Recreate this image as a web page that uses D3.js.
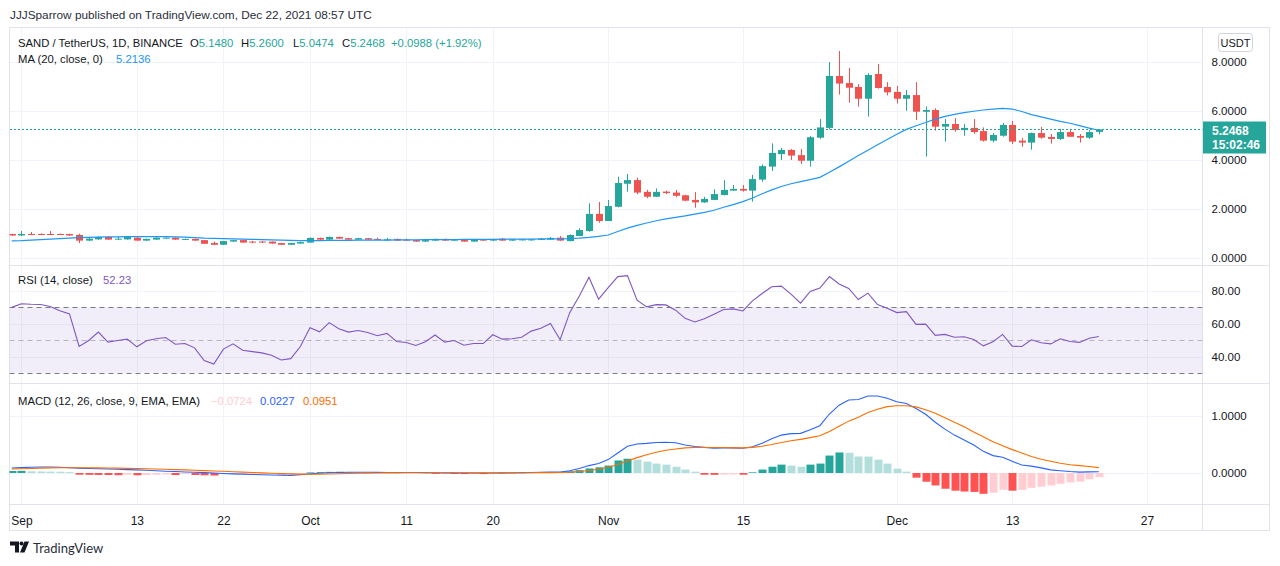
<!DOCTYPE html>
<html><head><meta charset="utf-8">
<script src="https://cdn.jsdelivr.net/npm/d3@7"></script>
<style>
html,body{margin:0;padding:0;background:#fff;}
svg{display:block;font-family:"Liberation Sans",Arial,sans-serif;}
</style>
</head><body>
<svg id="c" width="1280" height="566"></svg>
<script>
// ---------------- DATA (daily candles, 2021-08-31 .. 2021-12-22) ----------------
const firstDay = "2021-08-31";
const lastDay = "2021-12-22";

const open = [0.98,0.92,0.98,0.98,0.98,0.98,0.98,0.94,0.71,0.76,0.86,0.75,0.76,0.83,0.71,0.75,0.80,0.83,0.75,0.78,
0.73,0.61,0.54,0.67,0.73,0.67,0.67,0.67,0.61,0.54,0.59,0.63,0.82,0.75,0.86,0.81,0.75,0.81,0.78,0.72,
0.78,0.75,0.73,0.67,0.71,0.78,0.71,0.75,0.67,0.75,0.71,0.78,0.71,0.72,0.72,0.75,0.75,0.83,0.69,0.90,
1.10,1.80,1.51,2.09,3.03,3.18,2.70,2.50,2.71,2.67,2.56,2.37,2.27,2.37,2.57,2.75,2.82,2.75,3.20,3.73,
4.24,4.41,4.20,3.97,4.91,5.31,7.43,7.14,6.98,6.50,7.51,6.98,6.78,6.50,6.65,5.97,6.04,5.36,5.47,5.22,
5.31,5.18,4.79,4.99,5.43,4.79,4.71,5.10,4.94,4.86,5.14,4.98,4.91,5.148];
const high = [0.99,1.10,1.06,1.01,1.10,1.00,0.99,0.99,0.86,0.88,0.87,0.86,0.87,0.85,0.79,0.84,0.84,0.84,0.79,0.79,
0.74,0.67,0.70,0.74,0.75,0.70,0.70,0.68,0.62,0.62,0.67,0.84,0.83,0.87,0.87,0.82,0.82,0.82,0.83,0.82,
0.79,0.79,0.74,0.74,0.79,0.79,0.76,0.76,0.76,0.76,0.77,0.82,0.77,0.77,0.77,0.82,0.86,0.90,0.96,1.21,
2.23,2.29,2.37,3.32,3.43,3.28,2.78,2.84,2.75,2.78,2.58,2.69,2.50,2.80,3.18,2.98,2.98,3.39,3.82,4.68,
4.49,4.45,4.45,4.98,5.67,8.00,8.45,7.76,7.10,7.54,7.92,7.18,7.02,6.86,7.18,6.18,6.11,5.67,5.71,5.47,
5.67,5.33,5.10,5.51,5.59,4.90,5.12,5.35,5.06,5.27,5.27,5.06,5.22,5.26];
const low = [0.90,0.90,0.95,0.94,0.94,0.94,0.90,0.61,0.70,0.74,0.74,0.74,0.75,0.70,0.70,0.74,0.79,0.74,0.74,0.70,
0.57,0.52,0.53,0.66,0.62,0.60,0.61,0.58,0.53,0.53,0.58,0.62,0.74,0.74,0.78,0.74,0.74,0.74,0.74,0.71,
0.70,0.71,0.66,0.66,0.70,0.70,0.70,0.66,0.66,0.70,0.70,0.70,0.70,0.71,0.71,0.74,0.74,0.70,0.68,0.89,
1.07,1.44,1.51,2.07,2.71,2.60,2.44,2.49,2.61,2.48,2.32,2.05,2.25,2.36,2.56,2.74,2.71,2.30,3.11,3.55,
4.00,4.00,3.84,3.73,4.86,5.25,6.67,6.34,6.18,5.77,6.91,6.64,6.31,6.01,5.63,4.14,5.20,4.75,5.16,4.99,
5.07,4.75,4.72,4.95,4.65,4.54,4.42,4.87,4.67,4.82,4.95,4.71,4.86,5.0474];
const close = [0.92,0.98,0.96,0.96,0.96,0.96,0.92,0.71,0.79,0.86,0.75,0.79,0.86,0.71,0.78,0.83,0.83,0.75,0.78,0.71,
0.58,0.54,0.69,0.73,0.63,0.63,0.63,0.59,0.54,0.61,0.65,0.82,0.75,0.86,0.79,0.75,0.81,0.75,0.75,0.76,
0.71,0.72,0.67,0.73,0.78,0.71,0.75,0.67,0.75,0.71,0.76,0.71,0.76,0.76,0.76,0.78,0.82,0.71,0.94,1.14,
1.80,1.51,2.12,3.06,3.18,2.67,2.50,2.70,2.65,2.54,2.34,2.27,2.41,2.61,2.78,2.82,2.75,3.22,3.75,4.29,
4.41,4.18,3.97,4.93,5.33,7.43,7.12,6.95,6.50,7.47,6.94,6.76,6.50,6.65,5.97,6.04,5.36,5.47,5.22,5.31,
5.14,4.79,5.02,5.43,4.75,4.71,5.10,4.91,4.86,5.14,4.95,4.91,5.14,5.2468];
const ma20 = [0.70,0.71,0.73,0.75,0.77,0.79,0.81,0.83,0.84,0.85,0.86,0.86,0.87,0.87,0.87,0.87,0.87,0.86,0.85,0.83,
0.81,0.80,0.79,0.78,0.77,0.76,0.75,0.74,0.73,0.72,0.71,0.71,0.71,0.72,0.72,0.72,0.73,0.73,0.73,0.73,
0.74,0.74,0.74,0.75,0.75,0.75,0.75,0.76,0.76,0.76,0.76,0.77,0.77,0.77,0.77,0.78,0.78,0.78,0.79,0.81,
0.84,0.88,0.94,1.08,1.22,1.33,1.43,1.52,1.60,1.66,1.72,1.79,1.86,1.95,2.07,2.18,2.30,2.45,2.62,2.78,
2.92,3.03,3.12,3.20,3.29,3.50,3.72,3.95,4.18,4.40,4.62,4.84,5.05,5.25,5.40,5.53,5.67,5.78,5.86,5.93,
5.99,6.04,6.08,6.11,6.08,5.98,5.85,5.76,5.67,5.58,5.50,5.40,5.30,5.2136];
const rsi = [70.0,72.2,71.9,71.8,70.5,68.0,66.0,46.1,49.8,54.9,48.8,49.8,50.6,45.9,49.6,50.8,51.6,47.5,47.9,45.3,
37.5,35.4,44.5,47.7,43.8,43.0,42.2,40.8,37.9,38.7,46.1,57.6,55.1,60.7,57.0,54.9,55.9,54.7,52.7,54.1,
49.2,48.6,46.7,49.0,53.1,48.8,49.8,46.9,47.9,47.9,53.3,50.6,50.8,51.8,55.5,57.2,60.1,50.2,66.8,77.0,
88.4,75.0,82.0,88.8,89.4,74.4,70.3,71.7,71.5,68.3,63.3,61.1,63.1,65.8,68.7,69.1,67.8,74.0,78.5,82.6,
83.0,78.1,72.6,79.7,81.8,88.8,84.3,81.6,74.8,78.7,71.7,69.5,66.8,67.4,59.6,59.8,52.9,53.5,51.8,52.1,
50.4,46.5,49.0,53.5,46.3,46.1,50.2,48.4,47.7,50.8,49.2,48.6,51.2,52.23];
const macd = [0.088,0.095,0.10,0.105,0.106,0.10,0.092,0.085,0.08,0.075,0.07,0.065,0.06,0.055,0.048,0.04,0.032,0.025,0.018,0.012,
0.006,0.0,-0.008,-0.015,-0.02,-0.025,-0.03,-0.035,-0.04,-0.042,-0.03,-0.015,-0.005,0.005,0.01,0.012,0.012,0.012,0.011,0.01,
0.01,0.009,0.008,0.006,0.004,0.003,0.002,0.001,0.0,0.0,0.001,0.003,0.005,0.007,0.01,0.012,0.015,0.015,0.04,0.08,
0.13,0.165,0.235,0.35,0.47,0.51,0.52,0.535,0.54,0.53,0.49,0.465,0.45,0.435,0.44,0.44,0.435,0.46,0.52,0.60,
0.665,0.69,0.695,0.76,0.83,1.035,1.19,1.28,1.29,1.35,1.35,1.31,1.25,1.22,1.13,1.03,0.89,0.77,0.665,0.58,
0.49,0.38,0.305,0.275,0.205,0.14,0.12,0.09,0.055,0.04,0.025,0.015,0.02,0.0227];
const signal = [0.07,0.075,0.08,0.085,0.09,0.092,0.093,0.093,0.092,0.09,0.088,0.085,0.082,0.078,0.074,0.07,0.065,0.06,0.054,0.048,
0.042,0.036,0.03,0.023,0.016,0.009,0.002,-0.004,-0.01,-0.016,-0.02,-0.022,-0.02,-0.017,-0.013,-0.009,-0.005,-0.002,0.0,0.002,
0.003,0.004,0.005,0.005,0.005,0.005,0.004,0.004,0.003,0.003,0.003,0.003,0.003,0.004,0.005,0.006,0.007,0.009,0.014,0.025,
0.045,0.065,0.10,0.15,0.21,0.27,0.32,0.365,0.40,0.42,0.44,0.447,0.447,0.447,0.447,0.44,0.44,0.45,0.47,0.50,
0.535,0.565,0.59,0.62,0.655,0.73,0.82,0.91,0.98,1.06,1.12,1.165,1.18,1.18,1.16,1.11,1.05,0.97,0.89,0.81,
0.72,0.635,0.55,0.48,0.41,0.35,0.29,0.24,0.205,0.17,0.145,0.13,0.115,0.0951];
const hist = [0.035,0.038,0.03,0.026,0.024,0.022,0.015,-0.03,-0.032,-0.034,-0.036,-0.038,-0.03,-0.04,-0.035,-0.03,-0.025,-0.035,-0.02,-0.035,
-0.04,-0.045,-0.02,-0.018,-0.016,-0.014,-0.012,-0.01,-0.025,-0.02,-0.01,0.01,0.015,0.02,0.022,0.015,0.012,0.01,0.008,0.006,
0.005,0.004,0.003,0.002,-0.015,-0.005,-0.016,-0.018,-0.017,-0.019,-0.005,0.0,0.003,0.005,0.007,0.01,0.015,0.012,0.03,0.05,
0.08,0.10,0.13,0.22,0.25,0.235,0.20,0.165,0.147,0.11,0.06,0.024,-0.03,-0.032,-0.028,-0.025,-0.03,0.012,0.06,0.11,
0.147,0.13,0.11,0.147,0.165,0.306,0.36,0.355,0.29,0.288,0.235,0.165,0.076,0.024,-0.082,-0.153,-0.218,-0.276,-0.31,-0.325,
-0.332,-0.365,-0.347,-0.294,-0.31,-0.296,-0.26,-0.24,-0.218,-0.188,-0.165,-0.15,-0.11,-0.0724];

const priceTicks = [0,2,4,6,8];
const rsiTicks = [40,60,80];
const macdTicks = [0,1];
const timeTicks = ["2021-09-01","2021-09-13","2021-09-22","2021-10-01","2021-10-11","2021-10-20","2021-11-01","2021-11-15","2021-12-01","2021-12-13","2021-12-27"];
const timeTickLabels = ["Sep","13","22","Oct","11","20","Nov","15","Dec","13","27"];
const lastPrice = 5.2468;
const legendTitle = "SAND / TetherUS, 1D, BINANCE";
const ohlcLegend = [["O","5.1480"],["H","5.2600"],["L","5.0474"],["C","5.2468"]];
const changeText = "+0.0988 (+1.92%)";

// ---------------- LAYOUT ----------------
const svg = d3.select("#c");
const parseD = d3.utcParse("%Y-%m-%d");
const dates = d3.utcDays(parseD(firstDay), d3.utcDay.offset(parseD(lastDay),1));
const idx = d3.range(dates.length);

const L = 9.5, PR = 1202.5, FR = 1269.5, TOP = 27.5;
const P1 = 265.5, P2 = 383.5, P3 = 504.5, BOT = 530.5;
const GRID = "#f0f3fa", BORDER = "#e0e3eb", TXT = "#131722";
const UP = "#26a69a", DOWN = "#ef5350";

const x = d3.scaleUtc()
  .domain([parseD("2021-09-01"), parseD("2021-12-27")])
  .range([21.4, 1146.9]);
const yP = d3.scaleLinear().domain([0,8]).range([258,62]);
const yR = d3.scaleLinear().domain([40,80]).range([356.5,291]);
const yM = d3.scaleLinear().domain([0,1]).range([473,416]);

const defs = svg.append("defs");
function clip(id,y0,y1){
  defs.append("clipPath").attr("id",id).append("rect")
    .attr("x",L).attr("y",y0).attr("width",PR-L).attr("height",y1-y0);
}
clip("cMain",TOP,P1); clip("cRsi",P1,P2); clip("cMacd",P2,P3);

// grid
const grid = svg.append("g");
const tickDates = timeTicks.map(parseD);
grid.selectAll("line.v").data(tickDates).join("line")
  .attr("x1",d=>Math.round(x(d))+0.5).attr("x2",d=>Math.round(x(d))+0.5)
  .attr("y1",TOP).attr("y2",P3).attr("stroke",GRID);
function hgrid(vals,scale){
  grid.selectAll(null).data(vals).join("line")
    .attr("x1",L).attr("x2",PR)
    .attr("y1",d=>Math.round(scale(d))+0.5).attr("y2",d=>Math.round(scale(d))+0.5)
    .attr("stroke",GRID);
}
hgrid(priceTicks,yP); hgrid(rsiTicks,yR); hgrid(macdTicks,yM);

// frame
const fr = svg.append("g").attr("stroke",BORDER).attr("fill","none");
fr.append("rect").attr("x",L).attr("y",TOP).attr("width",FR-L).attr("height",BOT-TOP);
fr.append("line").attr("x1",L).attr("x2",FR).attr("y1",P1).attr("y2",P1);
fr.append("line").attr("x1",L).attr("x2",FR).attr("y1",P2).attr("y2",P2);
fr.append("line").attr("x1",L).attr("x2",FR).attr("y1",P3).attr("y2",P3);
fr.append("line").attr("x1",PR).attr("x2",PR).attr("y1",TOP).attr("y2",BOT);

// ---------------- MAIN PANE ----------------
const gMain = svg.append("g").attr("clip-path","url(#cMain)");
const cx = i => Math.round(x(dates[i]));
const col = i => close[i] >= open[i] ? UP : DOWN;
gMain.selectAll("line.wick").data(idx).join("line")
  .attr("x1",i=>cx(i)+0.5).attr("x2",i=>cx(i)+0.5)
  .attr("y1",i=>yP(high[i])).attr("y2",i=>yP(low[i]))
  .attr("stroke",col).attr("stroke-width",1);
gMain.selectAll("rect.body").data(idx).join("rect")
  .attr("x",i=>cx(i)-3).attr("width",7)
  .attr("y",i=>yP(Math.max(open[i],close[i])))
  .attr("height",i=>Math.max(1,Math.abs(yP(open[i])-yP(close[i]))))
  .attr("fill",col);
gMain.append("path").datum(idx)
  .attr("d",d3.line().x(i=>x(dates[i])).y(i=>yP(ma20[i])))
  .attr("fill","none").attr("stroke","#2196f3").attr("stroke-width",1.2);
const lpY = Math.round(yP(lastPrice))+0.5;
gMain.append("line")
  .attr("x1",L).attr("x2",PR).attr("y1",lpY).attr("y2",lpY)
  .attr("stroke",UP).attr("stroke-dasharray","2,2").attr("stroke-width",1)
  .attr("shape-rendering","crispEdges");

// ---------------- RSI PANE ----------------
const gR = svg.append("g").attr("clip-path","url(#cRsi)");
gR.append("rect").attr("x",L).attr("width",PR-L)
  .attr("y",yR(70)).attr("height",yR(30)-yR(70))
  .attr("fill","rgba(126,87,194,0.1)");
[[70,1],[50,0.5],[30,1]].forEach(([v,o])=>{
  gR.append("line").attr("x1",L).attr("x2",PR)
    .attr("y1",Math.round(yR(v))+0.5).attr("y2",Math.round(yR(v))+0.5)
    .attr("stroke","#787b86").attr("stroke-opacity",o).attr("stroke-dasharray","5,4");
});
gR.append("path").datum(idx)
  .attr("d",d3.line().x(i=>x(dates[i])).y(i=>yR(rsi[i])))
  .attr("fill","none").attr("stroke","#7e57c2").attr("stroke-width",1.1);

// ---------------- MACD PANE ----------------
const gM = svg.append("g").attr("clip-path","url(#cMacd)");
const hcol = i => {
  const v = hist[i], p = i>0 ? hist[i-1] : v;
  if (v >= 0) return v >= p ? "#26a69a" : "#b2dfdb";
  return v < p ? "#ff5252" : "#ffcdd2";
};
gM.selectAll("rect.h").data(idx).join("rect")
  .attr("x",i=>cx(i)-3.5).attr("width",8)
  .attr("y",i=>Math.min(yM(0),yM(hist[i])))
  .attr("height",i=>Math.max(0.5,Math.abs(yM(hist[i])-yM(0))))
  .attr("fill",hcol);
gM.append("path").datum(idx)
  .attr("d",d3.line().x(i=>x(dates[i])).y(i=>yM(macd[i])))
  .attr("fill","none").attr("stroke","#2962ff").attr("stroke-width",1.1);
gM.append("path").datum(idx)
  .attr("d",d3.line().x(i=>x(dates[i])).y(i=>yM(signal[i])))
  .attr("fill","none").attr("stroke","#ff6d00").attr("stroke-width",1.1);

// ---------------- AXES ----------------
function rightAxis(scale,vals,fmt){
  const g = svg.append("g").attr("transform",`translate(${PR},0)`)
    .call(d3.axisRight(scale).tickValues(vals).tickFormat(fmt).tickSize(0).tickPadding(9));
  g.select(".domain").remove();
  g.selectAll("text").attr("fill",TXT).attr("font-size","11.5px").attr("font-family","Liberation Sans, Arial, sans-serif");
}
rightAxis(yP,priceTicks,d3.format(".4f"));
rightAxis(yR,rsiTicks,d3.format(".2f"));
rightAxis(yM,macdTicks,d3.format(".4f"));

const xa = svg.append("g").attr("transform",`translate(0,${P3})`)
  .call(d3.axisBottom(x).tickValues(tickDates).tickFormat((d,i)=>timeTickLabels[i]).tickSize(0).tickPadding(12));
xa.select(".domain").remove();
xa.selectAll("text").attr("fill",TXT).attr("font-size","12px").attr("font-family","Liberation Sans, Arial, sans-serif");

// last price label
const lp = svg.append("g");
lp.append("rect").attr("x",PR+0.5).attr("y",121.5).attr("width",63).attr("height",32).attr("fill",UP);
lp.append("text").attr("x",1212).attr("y",135).text(d3.format(".4f")(lastPrice))
  .attr("fill","#fff").attr("font-size","12px").attr("font-weight","bold");
lp.append("text").attr("x",1212).attr("y",149).text("15:02:46")
  .attr("fill","#fff").attr("font-size","12px").attr("font-weight","bold");

// USDT button
svg.append("rect").attr("x",1218.5).attr("y",33.5).attr("width",34).attr("height",18).attr("rx",3)
  .attr("fill","#fff").attr("stroke","#d1d4dc");
svg.append("text").attr("x",1235.5).attr("y",46.5).attr("text-anchor","middle")
  .attr("font-size","11px").attr("fill",TXT).text("USDT");

// ---------------- TEXTS ----------------
svg.append("text").attr("x",10).attr("y",18.5).attr("font-size","11.8px").attr("fill","#2a2e39")
  .text("JJJSparrow published on TradingView.com, Dec 22, 2021 08:57 UTC");

const lg = svg.append("g").attr("font-size","11.3px");
lg.append("text").attr("x",18).attr("y",46.5).attr("fill",TXT).text(legendTitle);
const ohlcX = [190,241,293,342];
ohlcLegend.forEach(([k,v],i)=>{
  const t = lg.append("text").attr("x",ohlcX[i]).attr("y",46.5);
  t.append("tspan").attr("fill",TXT).text(k);
  t.append("tspan").attr("fill",UP).text(v);
});
lg.append("text").attr("x",391).attr("y",46.5).attr("fill",UP).text(changeText);
const ma = lg.append("text").attr("x",18).attr("y",62.7);
ma.append("tspan").attr("fill",TXT).text("MA (20, close, 0)");
ma.append("tspan").attr("x",116).attr("fill","#2196f3").text(d3.format(".4f")(ma20[ma20.length-1]));

const rl = lg.append("text").attr("x",18).attr("y",284.3);
rl.append("tspan").attr("fill",TXT).text("RSI (14, close)");
rl.append("tspan").attr("x",103).attr("fill","#7e57c2").text(d3.format(".2f")(rsi[rsi.length-1]));

const ml = lg.append("text").attr("x",18).attr("y",404.5);
ml.append("tspan").attr("fill",TXT).text("MACD (12, 26, close, 9, EMA, EMA)");
ml.append("tspan").attr("x",211).attr("fill","#ffcdd2").text("\u22120.0724");
ml.append("tspan").attr("x",260).attr("fill","#2962ff").text(d3.format(".4f")(macd[macd.length-1]));
ml.append("tspan").attr("x",303).attr("fill","#ff6d00").text(d3.format(".4f")(signal[signal.length-1]));

// TradingView logo
const logo = svg.append("g").attr("fill","#131722");
logo.append("path").attr("d","M10 541.5h9v11h-4v-7h-5z");
logo.append("circle").attr("cx",21.5).attr("cy",543.5).attr("r",2);
logo.append("path").attr("d","M24.5 541.5h4.5l-4.5 11h-4.5z");
svg.append("text").attr("x",33).attr("y",553).attr("font-size","13px").attr("fill","#2a2e39")
  .attr("font-family","Lato, 'Liberation Sans', sans-serif").text("TradingView");
</script>
</body></html>
